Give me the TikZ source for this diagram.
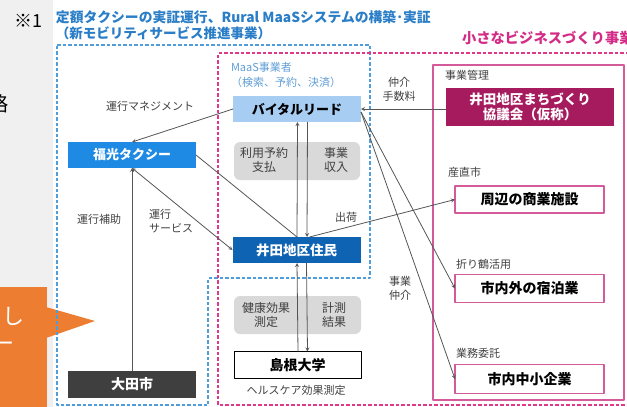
\documentclass[tikz,border=0pt]{standalone}
\usepackage{fontspec}
\setmainfont{Noto Sans CJK JP}
\definecolor{linegray}{HTML}{555555}
\definecolor{labelgray}{HTML}{404040}
\definecolor{titleblue}{HTML}{2A7DC7}
\definecolor{maasblue}{HTML}{5F9DD5}
\definecolor{areablue}{HTML}{4F9DDA}
\definecolor{areapink}{HTML}{E0398A}
\definecolor{boxpink}{HTML}{D45A9A}
\definecolor{bizpink}{HTML}{D42C86}
\definecolor{councilred}{HTML}{A51B5E}
\definecolor{vitalblue}{HTML}{A7CDF2}
\definecolor{taxiblue}{HTML}{1F8AE3}
\definecolor{residblue}{HTML}{0F63B3}
\definecolor{otagray}{HTML}{3F3F3F}
\definecolor{softgray}{HTML}{D9D9D9}
\definecolor{leftgray}{HTML}{F0F0F0}
\definecolor{calloutorange}{HTML}{ED7D31}
\tikzset{
  box/.style={minimum width=128pt, minimum height=26pt, align=center,
    font=\fontsize{13}{15}\selectfont\bfseries},
  bizbox/.style={box, minimum width=149pt, minimum height=28pt, fill=white,
    draw=boxpink, line width=1.2pt, font=\fontsize{14}{15}\selectfont\bfseries},
  lbl/.style={text=labelgray, align=center, font=\fontsize{11}{14}\selectfont},
  tag/.style={lbl, anchor=west},
  link/.style={draw=linegray, line width=0.8pt},
  area/.style={line width=1.3pt, dash pattern=on 3.5pt off 2pt},
}
\begin{document}
\begin{tikzpicture}[x=1pt, y=-1pt, >=stealth, line join=round,
    every node/.style={inner sep=0pt, outer sep=0pt}]
  \useasboundingbox (0,0) rectangle (627,407);
  \clip (0,0) rectangle (627,407);
  \fill[leftgray] (0,0) rectangle (53,407);

  % edge of the slide
  \node[anchor=east, font=\fontsize{20}{20}\selectfont] (ryaku) at (8,104) {略};
  \node[anchor=west, font=\fontsize{18}{18}\selectfont] (note) at (15,21) {※1};
  \fill[calloutorange] (-10,287) rectangle (47,407);
  \fill[calloutorange] (46,307) -- (95,321) -- (46,338) -- cycle;
  \node[anchor=east, text=white, font=\fontsize{22}{22}\selectfont] (shi) at (24,316) {し};
  \node[text=white, font=\fontsize{22}{22}\selectfont] (bar) at (4,347) {ー};

  % titles
  \node[anchor=west, text=titleblue, font=\fontsize{13.8}{15}\selectfont\bfseries] (title) at (56,17)
    {定額タクシーの実証運行、Rural MaaSシステムの構築･実証};
  \node[anchor=west, text=titleblue, font=\fontsize{13.5}{15}\selectfont\bfseries] (subtitle) at (56,33)
    {（新モビリティサービス推進事業）};
  \node[anchor=west, text=bizpink, font=\fontsize{14.3}{16}\selectfont\bfseries] (biztitle) at (462,38)
    {小さなビジネスづくり事業};

  % project areas
  \draw[area, draw=areablue] (57,45) -- (370,45) -- (370,278) -- (208,278) -- (208,405) -- (57,405) -- cycle;
  \draw[area, draw=areapink] (640,53) -- (218,53) -- (218,405) -- (640,405);
  \draw[draw=boxpink, line width=1.1pt] (433,65) rectangle (624,400);

  % grey flow boxes
  \fill[softgray, rounded corners=6pt] (234,142) rectangle (360,180);
  \fill[softgray, rounded corners=6pt] (234,296) rectangle (361,334);
  \node[lbl, font=\fontsize{12}{14}\selectfont] (pay) at (264,160) {利用予約\\支払};
  \node[lbl, font=\fontsize{12}{14}\selectfont] (income) at (336,160) {事業\\収入};
  \node[lbl, font=\fontsize{12}{14}\selectfont] (health) at (266,315) {健康効果\\測定};
  \node[lbl, font=\fontsize{12}{14}\selectfont] (result) at (334,315) {計測\\結果};

  % actors
  \node[anchor=west, text=maasblue, font=\fontsize{11}{13}\selectfont] (maas) at (231,67) {MaaS事業者};
  \node[anchor=west, text=maasblue, font=\fontsize{11}{13}\selectfont] (maasrole) at (231,82) {（検索、予約、決済）};
  \node[box, fill=vitalblue] (vital) at (297,109) {バイタルリード};
  \node[box, fill=taxiblue, text=white] (taxi) at (132,155) {福光タクシー};
  \node[box, fill=residblue, text=white, font=\fontsize{13.5}{15}\selectfont\bfseries] (resid) at (296.5,250) {井田地区住民};
  \node[box, minimum height=27pt, fill=otagray, text=white, font=\fontsize{14}{15}\selectfont\bfseries] (ota) at (132,384.5) {大田市};
  \node[box, minimum width=127pt, minimum height=27pt, fill=white, draw=black, line width=0.9pt,
    font=\fontsize{14}{15}\selectfont\bfseries] (univ) at (297.5,365) {島根大学};
  \node[lbl] (healthcare) at (296,390) {ヘルスケア効果測定};

  % small business side
  \node[tag] (mgmt) at (445,75) {事業管理};
  \node[box, minimum width=168pt, minimum height=38pt, fill=councilred, text=white,
    font=\fontsize{13.5}{15}\selectfont\bfseries] (council) at (530,106.5) {井田地区まちづくり\\協議会（仮称）};
  \node[tag] (market) at (448,172) {産直市};
  \node[bizbox, minimum height=27pt] (shop) at (529.5,199.5) {周辺の商業施設};
  \node[tag] (crane) at (456,264) {折り鶴活用};
  \node[bizbox] (hotel) at (529.5,288.5) {市内外の宿泊業};
  \node[tag] (outsource) at (456,353) {業務委託};
  \node[bizbox, minimum height=29pt] (smb) at (529.5,379) {市内中小企業};

  % connector labels
  \node[lbl] (mgmtlbl) at (150,106) {運行マネジメント};
  \node[lbl] (aidlbl) at (99,219) {運行補助};
  \node[lbl, align=left] (servlbl) at (171,221) {運行\\サービス};
  \node[lbl] (feelbl) at (399,89) {仲介\\手数料};
  \node[lbl] (shiplbl) at (346,217) {出荷};
  \node[lbl, align=left] (brokerlbl) at (400,288) {事業\\仲介};

  % connectors
  \draw[link, ->] (vital.west) -- (taxi.north);
  \draw[link] (taxi.east) -- ([xshift=0.5pt]resid.north);
  \draw[link, <->] (taxi.south) -- (resid.west);
  \draw[link, ->] (ota.north) -- (taxi.south);
  \draw[link, ->] ([xshift=0.5pt]resid.north) -- ([xshift=0.5pt]vital.south);
  \draw[link, ->] ([xshift=10.5pt]vital.south) -- ([xshift=10.5pt]resid.north);
  \draw[link, ->] ([xshift=0.5pt]univ.north) -- ([xshift=0.5pt]resid.south);
  \draw[link, ->] ([xshift=10pt]resid.south) -- ([xshift=10pt]univ.north);
  \draw[link, ->] ([xshift=13pt]resid.north) -- (shop.west);
  \draw[link, ->] (vital.east -| council.west) -- (vital.east);
  \draw[link, ->] ([yshift=-3pt]vital.east) -- (hotel.west);
  \draw[link, ->] ([yshift=-3pt]vital.east) -- (smb.west);
\end{tikzpicture}
\end{document}
